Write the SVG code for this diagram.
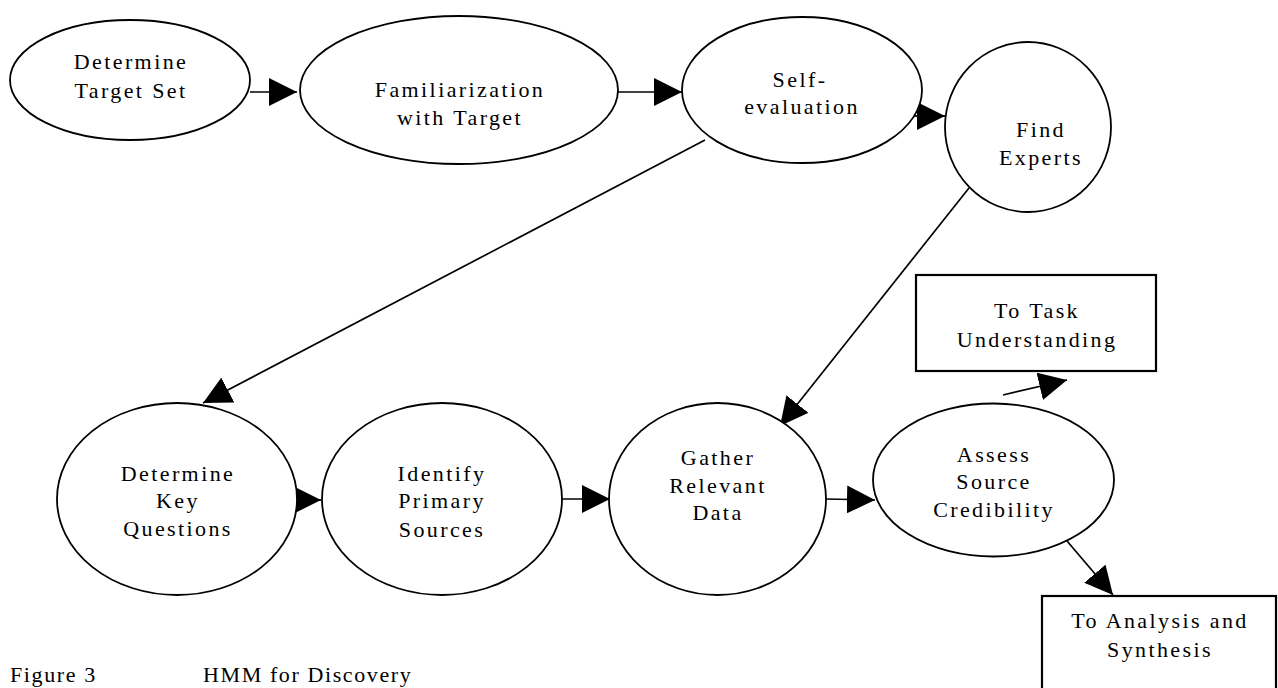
<svg xmlns="http://www.w3.org/2000/svg" width="1278" height="688" viewBox="0 0 1278 688">
  <defs>
    <style>
      .node { fill: #fff; stroke: #000; stroke-width: 1.8; }
      .box { fill: #fff; stroke: #000; stroke-width: 2.2; }
      .lbl { font-family: "Liberation Serif", "Times New Roman", serif; font-size: 22px; letter-spacing: 2.4px; fill: #000; text-anchor: middle; }
      .cap { font-family: "Liberation Serif", "Times New Roman", serif; font-size: 22px; letter-spacing: 1.6px; fill: #000; }
      .edge { fill: none; stroke: #000; stroke-width: 1.7; marker-end: url(#head); }
    </style>
    <marker id="head" markerUnits="userSpaceOnUse" markerWidth="28" markerHeight="28" viewBox="0 0 27 27" refX="27" refY="13.5" orient="auto">
      <path d="M0,0 L27,13.5 L0,27 Z" fill="#000"/>
    </marker>
  </defs>

  <rect width="1278" height="688" fill="#fff"/>

  <!-- connectors -->
  <g id="connectors">
    <line class="edge" x1="250" y1="92" x2="297" y2="92"/>
    <line class="edge" x1="618" y1="92" x2="682" y2="92"/>
    <line class="edge" x1="914" y1="116" x2="945" y2="116"/>
    <line class="edge" x1="705" y1="140" x2="203" y2="403"/>
    <line class="edge" x1="969" y1="188" x2="780" y2="426"/>
    <line class="edge" x1="295" y1="500" x2="321" y2="500"/>
    <line class="edge" x1="562" y1="499" x2="610" y2="499"/>
    <line class="edge" x1="826" y1="499" x2="875" y2="500"/>
    <line class="edge" x1="1003" y1="395" x2="1067" y2="380"/>
    <line class="edge" x1="1067" y1="541" x2="1113" y2="595"/>
  </g>

  <g id="determine-target-set">
    <ellipse class="node" cx="130" cy="80" rx="120" ry="60"/>
    <text class="lbl" x="131" y="69">Determine</text>
    <text class="lbl" x="131" y="98">Target Set</text>
  </g>

  <g id="familiarization">
    <ellipse class="node" cx="459" cy="90" rx="159" ry="74"/>
    <text class="lbl" x="460" y="97">Familiarization</text>
    <text class="lbl" x="460" y="125">with Target</text>
  </g>

  <g id="self-evaluation">
    <ellipse class="node" cx="802" cy="90" rx="120" ry="73"/>
    <text class="lbl" x="800" y="87">Self-</text>
    <text class="lbl" x="802" y="114">evaluation</text>
  </g>

  <g id="find-experts">
    <ellipse class="node" cx="1028" cy="127" rx="83" ry="85"/>
    <text class="lbl" x="1041" y="137">Find</text>
    <text class="lbl" x="1041" y="165">Experts</text>
  </g>

  <g id="task-understanding">
    <rect class="box" x="916" y="275" width="240" height="96"/>
    <text class="lbl" x="1037" y="318">To Task</text>
    <text class="lbl" x="1037" y="347">Understanding</text>
  </g>

  <g id="determine-key-questions">
    <ellipse class="node" cx="177" cy="499" rx="120" ry="96"/>
    <text class="lbl" x="178" y="481">Determine</text>
    <text class="lbl" x="178" y="508">Key</text>
    <text class="lbl" x="178" y="536">Questions</text>
  </g>

  <g id="identify-primary-sources">
    <ellipse class="node" cx="442" cy="499" rx="120" ry="96"/>
    <text class="lbl" x="442" y="481">Identify</text>
    <text class="lbl" x="442" y="508">Primary</text>
    <text class="lbl" x="442" y="537">Sources</text>
  </g>

  <g id="gather-relevant-data">
    <ellipse class="node" cx="717.5" cy="499" rx="108.5" ry="96"/>
    <text class="lbl" x="718" y="465">Gather</text>
    <text class="lbl" x="718" y="493">Relevant</text>
    <text class="lbl" x="718" y="520">Data</text>
  </g>

  <g id="assess-source-credibility">
    <ellipse class="node" cx="993.5" cy="480" rx="120.5" ry="76.5"/>
    <text class="lbl" x="994" y="462">Assess</text>
    <text class="lbl" x="994" y="489">Source</text>
    <text class="lbl" x="994" y="517">Credibility</text>
  </g>

  <g id="analysis-synthesis">
    <rect class="box" x="1042" y="596" width="234" height="120"/>
    <text class="lbl" x="1160" y="628">To Analysis and</text>
    <text class="lbl" x="1160" y="657">Synthesis</text>
  </g>

  <g id="caption">
    <text class="cap" x="10" y="682">Figure 3</text>
    <text class="cap" x="203" y="682">HMM for Discovery</text>
  </g>
</svg>
